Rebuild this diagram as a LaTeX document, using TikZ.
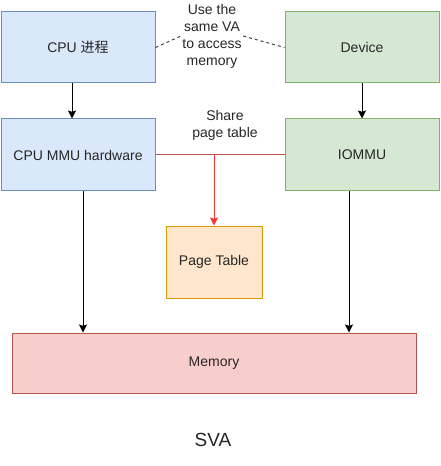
\documentclass[tikz,border=0pt]{standalone}
\usepackage{fontspec}
\setmainfont{Liberation Sans}
\newfontfamily\cjkfont{Noto Sans CJK SC}
\usetikzlibrary{arrows.meta}
\definecolor{cpuFill}{HTML}{DAE8FC}
\definecolor{cpuLine}{HTML}{6C8EBF}
\definecolor{devFill}{HTML}{D5E8D4}
\definecolor{devLine}{HTML}{82B366}
\definecolor{ptFill}{HTML}{FFE6CC}
\definecolor{ptLine}{HTML}{D79B00}
\definecolor{memFill}{HTML}{F8CECC}
\definecolor{memLine}{HTML}{B85450}
\definecolor{shareRed}{HTML}{FF3333}
\tikzset{
	box/.style={draw, line width=0.75pt, inner sep=0pt, text=black!85, font=\fontsize{10.5}{12.75}\selectfont},
	lbl/.style={inner sep=1pt, align=center, text=black!85, font=\fontsize{10.5}{12.75}\selectfont},
	arr/.style={line width=0.75pt, -{Stealth[length=6pt,width=6pt,inset=1pt]}},
	vadash/.style={line width=0.75pt, black!75, dash pattern=on 2.25pt off 2.25pt},
}

\begin{document}
\begin{tikzpicture}[x=0.75pt, y=-0.75pt]
			%%%%% START %%%%%
			\useasboundingbox (0, 0) rectangle (441, 466);
			
			\node[box, fill=cpuFill, draw=cpuLine, minimum width=115.5pt, minimum height=53.25pt] (cpu) at (78, 47.5) {CPU {\cjkfont 进程}};
			\node[box, fill=devFill, draw=devLine, minimum width=115.5pt, minimum height=53.25pt] (dev) at (362, 47.5) {Device};
			
			\node[box, fill=cpuFill, draw=cpuLine, minimum width=115.5pt, minimum height=54pt] (mmu) at (78, 155) {CPU MMU hardware};
			\node[box, fill=devFill, draw=devLine, minimum width=115.5pt, minimum height=54pt] (iommu) at (362, 155) {IOMMU};
			
			\node[box, fill=ptFill, draw=ptLine, minimum width=72pt, minimum height=54pt] (pt) at (214, 262) {Page Table};
			\node[box, fill=memFill, draw=memLine, minimum width=303pt, minimum height=45pt] (mem) at (214, 363) {Memory};
			
			\node[lbl] (va) at (212, 36) {Use the\\same VA\\to access\\memory};
			\node[lbl] (share) at (225, 125) {Share\\page table};
			\node[font=\fontsize{14.25}{16}\selectfont, text=black!85] (sva) at (213, 440) {SVA};
			
			\draw[vadash] (cpu.east) -- (va.west);
			\draw[vadash] (va.east) -- (dev.west);
			
			\draw[arr] ([xshift=-4.5pt]cpu.south) -- ([xshift=-4.5pt]mmu.north);
			\draw[arr] (dev.south) -- (iommu.north);
			\draw[arr] ([xshift=3.75pt]mmu.south) -- ([xshift=3.75pt]mmu.south |- mem.north);
			\draw[arr] ([xshift=-9.75pt]iommu.south) -- ([xshift=-9.75pt]iommu.south |- mem.north);
			
			\draw[line width=0.75pt, memLine] (mmu.east) -- (iommu.west);
			\draw[arr, shareRed] (pt.north |- mmu.east) -- (pt.north);
			%%%%% END %%%%%
\end{tikzpicture}
\end{document}
